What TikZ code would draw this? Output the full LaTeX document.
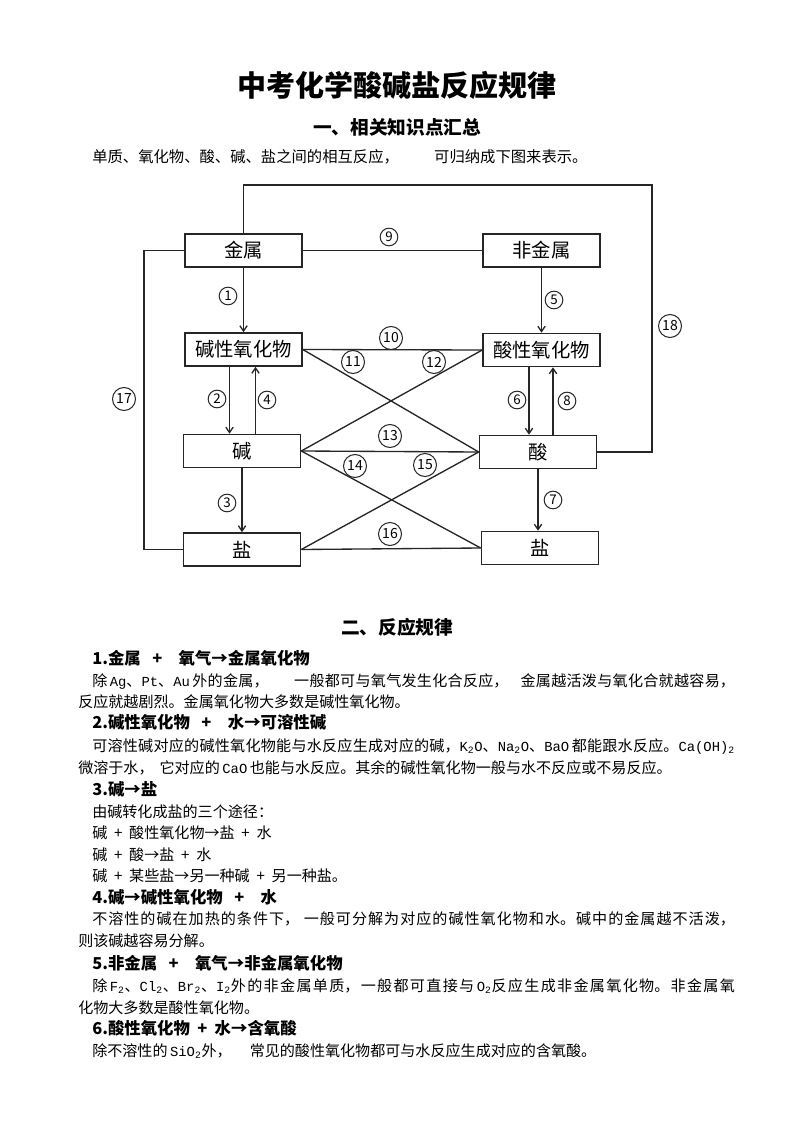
\documentclass[tikz,border=0pt]{standalone}
\usepackage{fontspec}
\setmainfont{Noto Sans CJK SC}
\newfontfamily\latn[Scale=0.92]{Liberation Mono}
\newcommand\chemf[1]{{\latn #1}}
\usetikzlibrary{arrows.meta,calc}
\XeTeXlinebreaklocale "zh"
\XeTeXlinebreakskip=0pt plus 3pt
\newcommand\jl[1]{\parbox[b]{482pt}{\tolerance=10000\linepenalty=5000\parfillskip=0pt\relax #1}}
\newcommand\pl{\hspace{0.45em}+\hspace{0.45em}}
\tikzset{
  box/.style={draw=black!85, line width=1.2pt, minimum width=87.75pt, minimum height=24.75pt, inner sep=0pt, font=\fontsize{14.5}{16}\selectfont},
  ln/.style={draw=black!85, line width=1pt},
  arr/.style={ln, -{Straight Barb[length=4pt,width=5.5pt]}},
  cn/.style={circle, draw=black!85, line width=0.75pt, inner sep=0pt, minimum size=13.25pt, font=\fontsize{10}{10}\selectfont},
  cnn/.style={cn, minimum size=17.25pt, font=\fontsize{10.5}{10.5}\selectfont},
  tb/.style={anchor=base west, inner sep=0pt, font=\fontsize{11.3}{13}\selectfont},
  th/.style={anchor=base west, inner sep=0pt, font=\bfseries\fontsize{12.3}{14}\selectfont},
  tt/.style={anchor=center, inner sep=0pt, font=\bfseries\fontsize{21.75}{24}\selectfont},
  ts/.style={anchor=center, inner sep=0pt, font=\bfseries\fontsize{14}{16}\selectfont}
}
\begin{document}
\begin{tikzpicture}[x=0.75pt,y=-0.75pt]
\fill[white] (0,0) rectangle (794,1123);
\useasboundingbox (0,0) rectangle (794,1123);

% headings
\node[tt] (title) at (397,85) {中考化学酸碱盐反应规律};
\node[ts] (sub1) at (397,127) {一、相关知识点汇总};
\node[tb, font=\fontsize{11.5}{13}\selectfont] (intro) at (92,162.5) {单质、氧化物、酸、碱、盐之间的相互反应，\hspace{2.3em}可归纳成下图来表示。};

% diagram boxes
\node[box] (js) at (243.5,250.5) {金属};
\node[box] (fjs) at (541.5,250.5) {非金属};
\node[box] (jx) at (243.5,349.5) {碱性氧化物};
\node[box] (sx) at (541.5,350) {酸性氧化物};
\node[box] (jian) at (242,451) {碱};
\node[box] (suan) at (538,452) {酸};
\node[box] (yanL) at (242,549.5) {盐};
\node[box] (yanR) at (540,548) {盐};

% vertical arrows
\draw[arr] (js.south) -- (jx.north);
\draw[arr] (fjs.south) -- (sx.north);
\draw[arr] ($(jx.south)+(-14,0)$) coordinate (a2) -- (a2 |- jian.north);
\draw[arr] ($(jian.north)+(13.5,0)$) coordinate (a4) -- (a4 |- jx.south);
\draw[arr] ($(sx.south)+(-12.5,0)$) coordinate (a6) -- (a6 |- suan.north);
\draw[arr] ($(suan.north)+(15,0)$) coordinate (a8) -- (a8 |- sx.south);
\draw[arr] (jian.south) -- (jian.south |- yanL.north);
\draw[arr] (suan.south) -- (suan.south |- yanR.north);

% horizontal and diagonal lines
\draw[ln] (js.east) -- (fjs.west);
\draw[ln] (jx.east) -- (sx.west);
\draw[ln] (jx.east) -- (suan.west);
\draw[ln] (sx.west) -- (jian.east);
\draw[ln] (jian.east) -- (suan.west);
\draw[ln] (jian.east) -- (yanR.west);
\draw[ln] (suan.west) -- (yanL.east);
\draw[ln] (yanL.east) -- (yanR.west);

% outer lines
\coordinate (c18) at (652,185);
\draw[ln] (js.north) |- (c18) |- (suan.east);
\coordinate (c17) at (144,400);
\draw[ln] (js.west) -| (c17) |- (yanL.west);

% circled numbers
\node[cn] (n1) at (228,296) {1};
\node[cn] (n2) at (217,399) {2};
\node[cn] (n3) at (227,503) {3};
\node[cn] (n4) at (267,400) {4};
\node[cn] (n5) at (554,300) {5};
\node[cn] (n6) at (517,400) {6};
\node[cn] (n7) at (553,500) {7};
\node[cn] (n8) at (567,401) {8};
\node[cn] (n9) at (389,237) {9};
\node[cnn] (n10) at (391,338) {10};
\node[cnn] (n11) at (353,362) {11};
\node[cnn] (n12) at (434,362) {12};
\node[cnn] (n13) at (390,436) {13};
\node[cnn] (n14) at (355,466) {14};
\node[cnn] (n15) at (425,465) {15};
\node[cnn] (n16) at (390,534) {16};
\node[cnn] (n17) at (124,399) {17};
\node[cnn] (n18) at (670,326) {18};

% section 2
\node[ts] (sub2) at (397,627) {二、反应规律};

\node[th] (h1) at (92,664) {1.金属\hspace{0.7em}+\hspace{1em}氧气→金属氧化物};
\node[tb] (b11) at (92,686.5) {\jl{除\,\chemf{Ag}、\chemf{Pt}、\chemf{Au}\,外的金属，\hspace{1.7em}一般都可与氧气发生化合反应，\hspace{0.8em}金属越活泼与氧化合就越容易，}};
\node[tb] (b12) at (78,707.5) {反应就越剧烈。金属氧化物大多数是碱性氧化物。};

\node[th] (h2) at (92,728) {2.碱性氧化物\hspace{0.7em}+\hspace{1em}水→可溶性碱};
\node[tb] (b21) at (92,751.5) {\jl{可溶性碱对应的碱性氧化物能与水反应生成对应的碱，\chemf{K\textsubscript{2}O}、\chemf{Na\textsubscript{2}O}、\chemf{BaO}\,都能跟水反应。\chemf{Ca(OH)\textsubscript{2}}}};
\node[tb] (b22) at (78,773.5) {微溶于水，\hspace{0.4em}它对应的\,\chemf{CaO}\,也能与水反应。其余的碱性氧化物一般与水不反应或不易反应。};

\node[th] (h3) at (92,795) {3.碱→盐};
\node[tb] (b31) at (92,817.5) {由碱转化成盐的三个途径：};
\node[tb] (b32) at (92,838.5) {碱\pl 酸性氧化物→盐\pl 水};
\node[tb] (b33) at (92,860.5) {碱\pl 酸→盐\pl 水};
\node[tb] (b34) at (92,881.5) {碱\pl 某些盐→另一种碱\pl 另一种盐。};

\node[th] (h4) at (92,903) {4.碱→碱性氧化物\hspace{0.7em}+\hspace{1em}水};
\node[tb] (b41) at (92,924.5) {\jl{不溶性的碱在加热的条件下，\hspace{0.3em}一般可分解为对应的碱性氧化物和水。碱中的金属越不活泼，}};
\node[tb] (b42) at (78,946.5) {则该碱越容易分解。};

\node[th] (h5) at (92,969) {5.非金属\hspace{0.7em}+\hspace{1em}氧气→非金属氧化物};
\node[tb] (b51) at (92,991.5) {\jl{除\,\chemf{F\textsubscript{2}}、\chemf{Cl\textsubscript{2}}、\chemf{Br\textsubscript{2}}、\chemf{I\textsubscript{2}}外的非金属单质，一般都可直接与\,\chemf{O\textsubscript{2}}反应生成非金属氧化物。非金属氧}};
\node[tb] (b52) at (78,1013.5) {化物大多数是酸性氧化物。};

\node[th] (h6) at (92,1034) {6.酸性氧化物\pl 水→含氧酸};
\node[tb] (b61) at (92,1056.5) {除不溶性的\,\chemf{SiO\textsubscript{2}}外，\hspace{1.2em}常见的酸性氧化物都可与水反应生成对应的含氧酸。};
\end{tikzpicture}
\end{document}
